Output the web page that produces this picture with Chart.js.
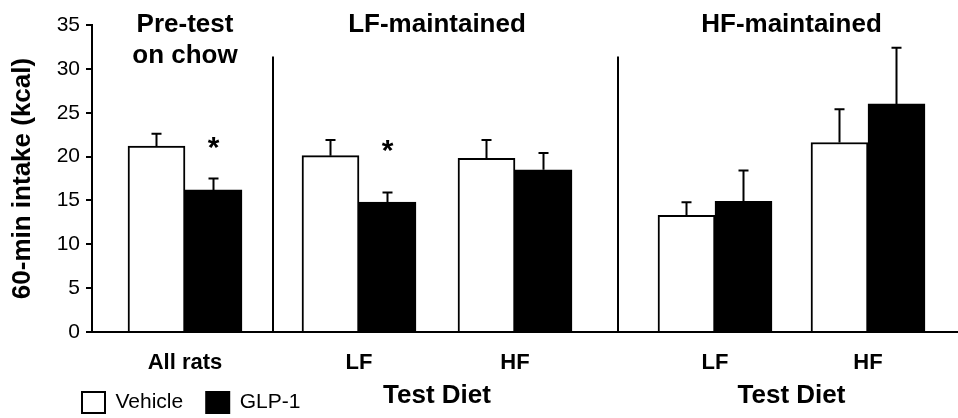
<!DOCTYPE html>
<html>
<head>
<meta charset="utf-8">
<script src="https://cdn.jsdelivr.net/npm/chart.js@4.4.1/dist/chart.umd.min.js"></script>
<style>
  html, body { margin: 0; padding: 0; background: #fff; }
  #wrap { width: 958px; height: 418px; }
</style>
</head>
<body>
<div id="wrap"><canvas id="intake"></canvas></div>
<script>
// groups along the x axis (positions in arbitrary units, panels are not evenly spaced)
const groupLabels = ['All rats', 'LF', 'HF', 'LF', 'HF'];
const groupX = [9.3, 26.7, 42.3, 62.3, 77.6];
const panelTitles = [['Pre-test', 'on chow'], ['LF-maintained'], ['HF-maintained']];
const panelGroups = [[0], [1, 2], [3, 4]];
const xLabelPanels = [1, 2]; // panels that get "Test Diet" underneath

// 60-min intake (kcal): mean and SEM
const vehicle = [21.2, 20.1, 19.8, 13.3, 21.6];
const vehicleSem = [1.4, 1.8, 2.1, 1.5, 3.8];
const glp1 = [16.2, 14.8, 18.5, 14.9, 26.0];
const glp1Sem = [1.3, 1.1, 1.9, 3.5, 6.4];
const starAt = [21.8, 21.4, null, null, null]; // significance marks over GLP-1 bars

// panel dividers
const dividerX = [18.1, 52.6];
const dividerTop = 31.4;

const FONT = "'Liberation Sans', Arial, Helvetica, sans-serif";

const extras = {
  id: 'extras',
  afterLayout(chart) {
    // move legend to bottom-left under the y axis
    const lg = chart.legend;
    lg.left = 59;
    lg.top = 369;
  },
  afterDatasetsDraw(chart) {
    const ctx = chart.ctx;
    const xs = chart.scales.x, ys = chart.scales.y;
    ctx.save();
    ctx.strokeStyle = '#000';
    ctx.lineWidth = 2;
    [[0, vehicle, vehicleSem], [1, glp1, glp1Sem]].forEach(([di, mean, sem]) => {
      chart.getDatasetMeta(di).data.forEach((bar, i) => {
        const top = ys.getPixelForValue(mean[i] + sem[i]);
        ctx.beginPath();
        ctx.moveTo(bar.x, bar.y);
        ctx.lineTo(bar.x, top);
        ctx.moveTo(bar.x - 5, top);
        ctx.lineTo(bar.x + 5, top);
        ctx.stroke();
      });
    });

    ctx.fillStyle = '#000';
    ctx.textAlign = 'center';
    ctx.textBaseline = 'alphabetic';

    // asterisks
    ctx.font = 'bold 30px ' + FONT;
    const glpBars = chart.getDatasetMeta(1).data;
    starAt.forEach((v, i) => {
      if (v == null) return;
      ctx.fillText('*', glpBars[i].x, ys.getPixelForValue(v) + 16);
    });

    // panel titles and "Test Diet"
    ctx.font = 'bold 26px ' + FONT;
    panelTitles.forEach((lines, p) => {
      const g = panelGroups[p];
      const cx = xs.getPixelForValue(g.reduce((a, k) => a + groupX[k], 0) / g.length);
      lines.forEach((t, j) => ctx.fillText(t, cx, 32 + j * 31));
      if (xLabelPanels.includes(p)) ctx.fillText('Test Diet', cx, 403);
    });
    ctx.restore();
  }
};

new Chart(document.getElementById('intake'), {
  type: 'bar',
  data: {
    datasets: [
      {
        label: 'Vehicle',
        data: groupX.map((x, i) => ({ x, y: vehicle[i] })),
        backgroundColor: '#fff',
        borderColor: '#000',
        borderWidth: 2,
        barThickness: 57
      },
      {
        label: 'GLP-1',
        data: groupX.map((x, i) => ({ x, y: glp1[i] })),
        backgroundColor: '#000',
        borderColor: '#000',
        borderWidth: 2,
        barThickness: 57
      },
      {
        label: 'divider',
        data: dividerX.map(x => ({ x, y: dividerTop })),
        backgroundColor: '#000',
        borderWidth: 0,
        grouped: false,
        maxBarThickness: 2
      }
    ]
  },
  options: {
    responsive: true,
    maintainAspectRatio: false,
    animation: false,
    layout: { padding: { top: 25, left: 0, right: 0, bottom: 0 } },
    plugins: {
      tooltip: { enabled: false },
      legend: {
        position: 'bottom',
        align: 'start',
        maxHeight: 36,
        labels: {
          color: '#000',
          font: { family: FONT, size: 21 },
          boxWidth: 23,
          boxHeight: 21,
          padding: 23,
          filter: item => item.datasetIndex < 2
        }
      }
    },
    scales: {
      x: {
        type: 'linear',
        min: 0,
        max: 86.6,
        offset: false,
        afterBuildTicks: s => { s.ticks = groupX.map(v => ({ value: v })); },
        afterFit: s => { s.height = 86 - s.chart.legend.height; },
        ticks: {
          autoSkip: false,
          maxRotation: 0,
          color: '#000',
          padding: 10,
          font: { family: FONT, size: 22, weight: 'bold' },
          callback: (v, i) => groupLabels[i]
        },
        grid: { display: false },
        border: { color: '#000', width: 2 }
      },
      y: {
        min: 0,
        max: 35,
        afterFit: s => { s.width = 92; },
        ticks: { stepSize: 5, color: '#000', padding: 6, font: { family: FONT, size: 21 } },
        grid: { drawOnChartArea: false, color: '#000', lineWidth: 2, tickLength: 6 },
        border: { color: '#000', width: 2 },
        title: {
          display: true,
          text: '60-min intake (kcal)',
          color: '#000',
          font: { family: FONT, size: 26, weight: 'bold' },
          padding: { top: 7, bottom: 0 }
        }
      }
    }
  },
  plugins: [extras]
});
</script>
</body>
</html>
